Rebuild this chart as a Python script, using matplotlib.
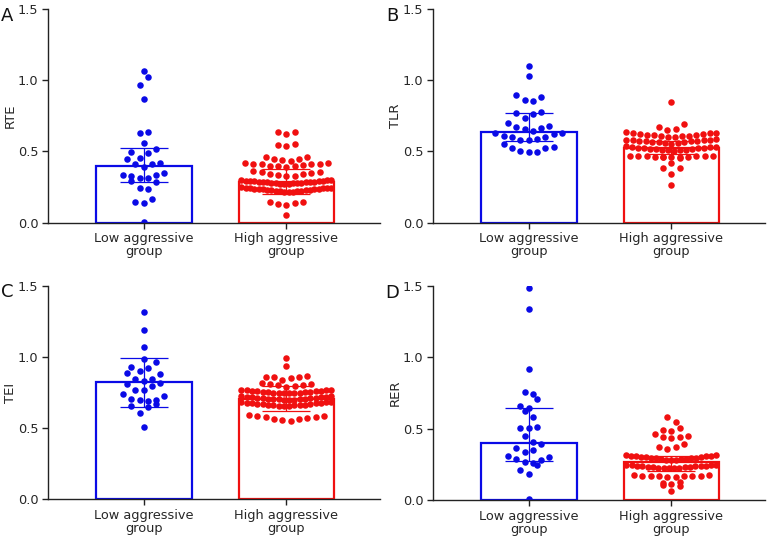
import numpy as np
import matplotlib
matplotlib.use("Agg")
import matplotlib.pyplot as plt

plt.rcParams['font.family'] = ['DejaVu Sans']

categories = ["Low aggressive\ngroup", "High aggressive\ngroup"]
panel_letters = ["A", "B", "C", "D"]
y_labels = ["RTE", "TLR", "TEI", "RER"]
y_ticks = [0.0, 0.5, 1.0, 1.5]

# ---------------- Panel A : RTE ----------------
rte_low = [1.062, 1.020, 0.964, 0.866, 0.636, 0.629, 0.561, 0.515, 0.494, 0.489,
           0.454, 0.449, 0.421, 0.414, 0.410, 0.389, 0.347, 0.337, 0.333, 0.328,
           0.312, 0.312, 0.290, 0.286, 0.241, 0.234, 0.168, 0.143, 0.140, 0.005]
rte_high = [0.640, 0.620, 0.636,
            0.550, 0.535, 0.548,
            0.461, 0.450, 0.437, 0.436, 0.449, 0.458,
            0.420, 0.415, 0.410, 0.402, 0.395, 0.390, 0.396, 0.401, 0.409, 0.414, 0.419,
            0.360, 0.354, 0.344, 0.333, 0.325, 0.330, 0.341, 0.350, 0.358,
            0.300, 0.299, 0.297, 0.296, 0.295, 0.293, 0.292, 0.290, 0.289, 0.288,
            0.286, 0.285, 0.284, 0.283, 0.281, 0.280, 0.279, 0.278, 0.276, 0.275,
            0.273, 0.272,
            0.248, 0.247, 0.245, 0.244, 0.243, 0.241, 0.240, 0.238, 0.237, 0.235,
            0.234, 0.232, 0.230, 0.229, 0.227, 0.225, 0.224, 0.222, 0.220, 0.218,
            0.216, 0.214,
            0.147, 0.136, 0.124, 0.131, 0.145,
            0.054]
rte_bar = [0.400, 0.288]
rte_err_lo = [0.283, 0.200]
rte_err_hi = [0.527, 0.380]

# ---------------- Panel B : TLR ----------------
tlr_low = [1.102, 1.030, 0.894, 0.884, 0.861, 0.852, 0.775, 0.772, 0.761, 0.737,
           0.702, 0.676, 0.674, 0.668, 0.660, 0.644, 0.632, 0.630, 0.620, 0.610,
           0.604, 0.600, 0.590, 0.582, 0.578, 0.550, 0.534, 0.527, 0.524, 0.500,
           0.497, 0.494]
tlr_high = [0.847,
            0.690, 0.674, 0.660, 0.653,
            0.640, 0.633, 0.628, 0.622, 0.618, 0.613, 0.608, 0.604, 0.601, 0.606,
            0.611, 0.616, 0.624, 0.631,
            0.585, 0.582, 0.579, 0.576, 0.573, 0.570, 0.567, 0.563, 0.560, 0.557,
            0.555, 0.565, 0.572, 0.578, 0.583,
            0.535, 0.533, 0.531, 0.529, 0.527, 0.525, 0.523, 0.521, 0.519, 0.517,
            0.515, 0.513, 0.511, 0.509, 0.507, 0.505,
            0.470, 0.469, 0.468, 0.467, 0.466, 0.465, 0.464, 0.463, 0.462, 0.461,
            0.460, 0.458, 0.456,
            0.417, 0.386, 0.382, 0.344, 0.265]
tlr_bar = [0.640, 0.527]
tlr_err_lo = [0.575, 0.480]
tlr_err_hi = [0.770, 0.570]

# ---------------- Panel C : TEI ----------------
tei_low = [1.313, 1.191, 1.067, 0.988, 0.962, 0.929, 0.922, 0.901, 0.885, 0.882,
           0.845, 0.845, 0.831, 0.820, 0.808, 0.794, 0.770, 0.765, 0.737, 0.725,
           0.702, 0.697, 0.695, 0.690, 0.669, 0.657, 0.650, 0.606, 0.506]
tei_high = [0.992, 0.938,
            0.866, 0.862, 0.860, 0.857, 0.850, 0.838,
            0.815, 0.810, 0.805, 0.800, 0.790, 0.796, 0.812,
            0.770, 0.768, 0.767, 0.765, 0.763, 0.762, 0.760, 0.758, 0.757, 0.755,
            0.753, 0.752, 0.750, 0.749, 0.748, 0.747, 0.745, 0.744,
            0.724, 0.722, 0.721, 0.719, 0.717, 0.716, 0.714, 0.712, 0.711, 0.709,
            0.707, 0.706, 0.704, 0.703, 0.702, 0.700, 0.699, 0.698,
            0.685, 0.683, 0.681, 0.679, 0.677, 0.675, 0.673, 0.671, 0.669, 0.667,
            0.665, 0.664, 0.662, 0.661, 0.659, 0.658, 0.656, 0.655,
            0.590, 0.588, 0.584, 0.578, 0.570, 0.562, 0.556, 0.551, 0.566, 0.580]
tei_bar = [0.822, 0.707]
tei_err_lo = [0.650, 0.620]
tei_err_hi = [0.990, 0.796]

# ---------------- Panel D : RER ----------------
rer_low = [1.484, 1.337, 0.918, 0.757, 0.745, 0.708, 0.657, 0.645, 0.624, 0.580,
           0.510, 0.507, 0.505, 0.449, 0.404, 0.390, 0.362, 0.348, 0.334, 0.308,
           0.304, 0.287, 0.280, 0.264, 0.257, 0.243, 0.208, 0.180, 0.009]
rer_high = [0.580, 0.549,
            0.502, 0.488, 0.481,
            0.460, 0.451, 0.442, 0.440, 0.432,
            0.390, 0.374, 0.371, 0.360,
            0.315, 0.313, 0.311, 0.309, 0.307, 0.305, 0.303, 0.301, 0.299, 0.297,
            0.295, 0.293, 0.291, 0.289, 0.287, 0.285, 0.283, 0.281, 0.280,
            0.248, 0.246, 0.245, 0.243, 0.241, 0.240, 0.238, 0.237, 0.235, 0.233,
            0.232, 0.230, 0.229, 0.227, 0.226, 0.224, 0.223, 0.222,
            0.175, 0.173, 0.171, 0.170, 0.168, 0.167, 0.166, 0.165, 0.164, 0.163,
            0.124, 0.120, 0.112, 0.105, 0.100,
            0.065]
rer_bar = [0.400, 0.264]
rer_err_lo = [0.276, 0.200]
rer_err_hi = [0.647, 0.310]

panels = [
    (rte_low, rte_high, rte_bar, rte_err_lo, rte_err_hi),
    (tlr_low, tlr_high, tlr_bar, tlr_err_lo, tlr_err_hi),
    (tei_low, tei_high, tei_bar, tei_err_lo, tei_err_hi),
    (rer_low, rer_high, rer_bar, rer_err_lo, rer_err_hi),
]

colors = ["#0a0ae6", "#f01010"]
row_height_px = [9.0, 6.0]   # vertical bin size of the scatter rows per group
text_color = "#262626"

W, H = 770, 540
fig = plt.figure(figsize=(W / 100, H / 100), dpi=100)

# axes boxes in pixels: left, top, right, bottom
boxes = [(48, 9, 380, 222.7), (433, 9, 765, 222.7),
         (48, 285.7, 380, 499.3), (433, 286, 765, 500)]
letter_pos = [(1, 21), (386, 21), (1, 297), (385, 298)]


def row_layout(vals, px_per_unit, h_px=6.0, s_px=8.3, max_span=90.0):
    """Prism-like scatter: bin values into rows, spread each row around centre."""
    vals = np.asarray(vals)
    order = np.argsort(vals, kind="stable")
    bins, cur, start = [], [], None
    for i in order:
        v = vals[i]
        if cur and (v - start) * px_per_unit > h_px:
            bins.append(cur)
            cur = []
        if not cur:
            start = v
        cur.append(i)
    if cur:
        bins.append(cur)
    offs = np.zeros(len(vals))
    flip = 1
    for b in bins:
        n = len(b)
        sp = s_px if n < 2 else min(s_px, max_span / (n - 1))
        if n % 2:
            slots = [0.0] + [k * m for k in range(1, n // 2 + 1) for m in (flip, -flip)]
        else:
            slots = [(k - 0.5) * m for k in range(1, n // 2 + 1) for m in (flip, -flip)]
        for j, idx in enumerate(b):
            offs[idx] = slots[j] * sp
        flip = -flip
    return offs


for k, (low, high, bar, elo, ehi) in enumerate(panels):
    l, t, r, b = boxes[k]
    ax = fig.add_axes([l / W, 1 - b / H, (r - l) / W, (b - t) / H])
    ax.set_xlim(-0.67, 1.655)
    ax.set_ylim(0, 1.5)
    x = np.arange(2)
    ax.bar(x, bar, width=0.67, facecolor="white", edgecolor=colors,
           linewidth=1.6, zorder=1)
    p0 = ax.transData.transform([(0, 0)])[0]
    p1 = ax.transData.transform([(1, 1)])[0]
    x_unit = p1[0] - p0[0]
    y_unit = p1[1] - p0[1]
    for gi, vals in enumerate([low, high]):
        vals = np.asarray(vals)
        offs = row_layout(vals, y_unit, h_px=row_height_px[gi]) / x_unit
        ax.scatter(gi + offs, vals, s=22, color=colors[gi], linewidths=0, zorder=2)
    for gi in range(2):
        ax.errorbar([gi], [bar[gi]],
                    yerr=[[bar[gi] - elo[gi]], [ehi[gi] - bar[gi]]],
                    fmt="none", ecolor=colors[gi], elinewidth=0.9,
                    capsize=17, capthick=0.9, zorder=3)
    for s in ["top", "right"]:
        ax.spines[s].set_visible(False)
    for s in ["left", "bottom"]:
        ax.spines[s].set_linewidth(1.0)
        ax.spines[s].set_color("#222222")
    ax.set_yticks(y_ticks)
    ax.set_yticklabels(["0.0", "0.5", "1.0", "1.5"])
    ax.set_xticks(x)
    ax.set_xticklabels(categories, linespacing=1.0)
    ax.tick_params(axis="both", direction="out", length=4, width=1.0,
                   color="#222222", labelsize=9.3, labelcolor=text_color, pad=3)
    ax.set_ylabel(y_labels[k], fontsize=9.5, color=text_color)
    ax.yaxis.set_label_coords(-0.093, 0.5)
    lx, ly = letter_pos[k]
    fig.text(lx / W, 1 - ly / H, panel_letters[k], fontsize=13,
             color="#111111", va="baseline", ha="left")

fig.savefig("out.png", dpi=100)
